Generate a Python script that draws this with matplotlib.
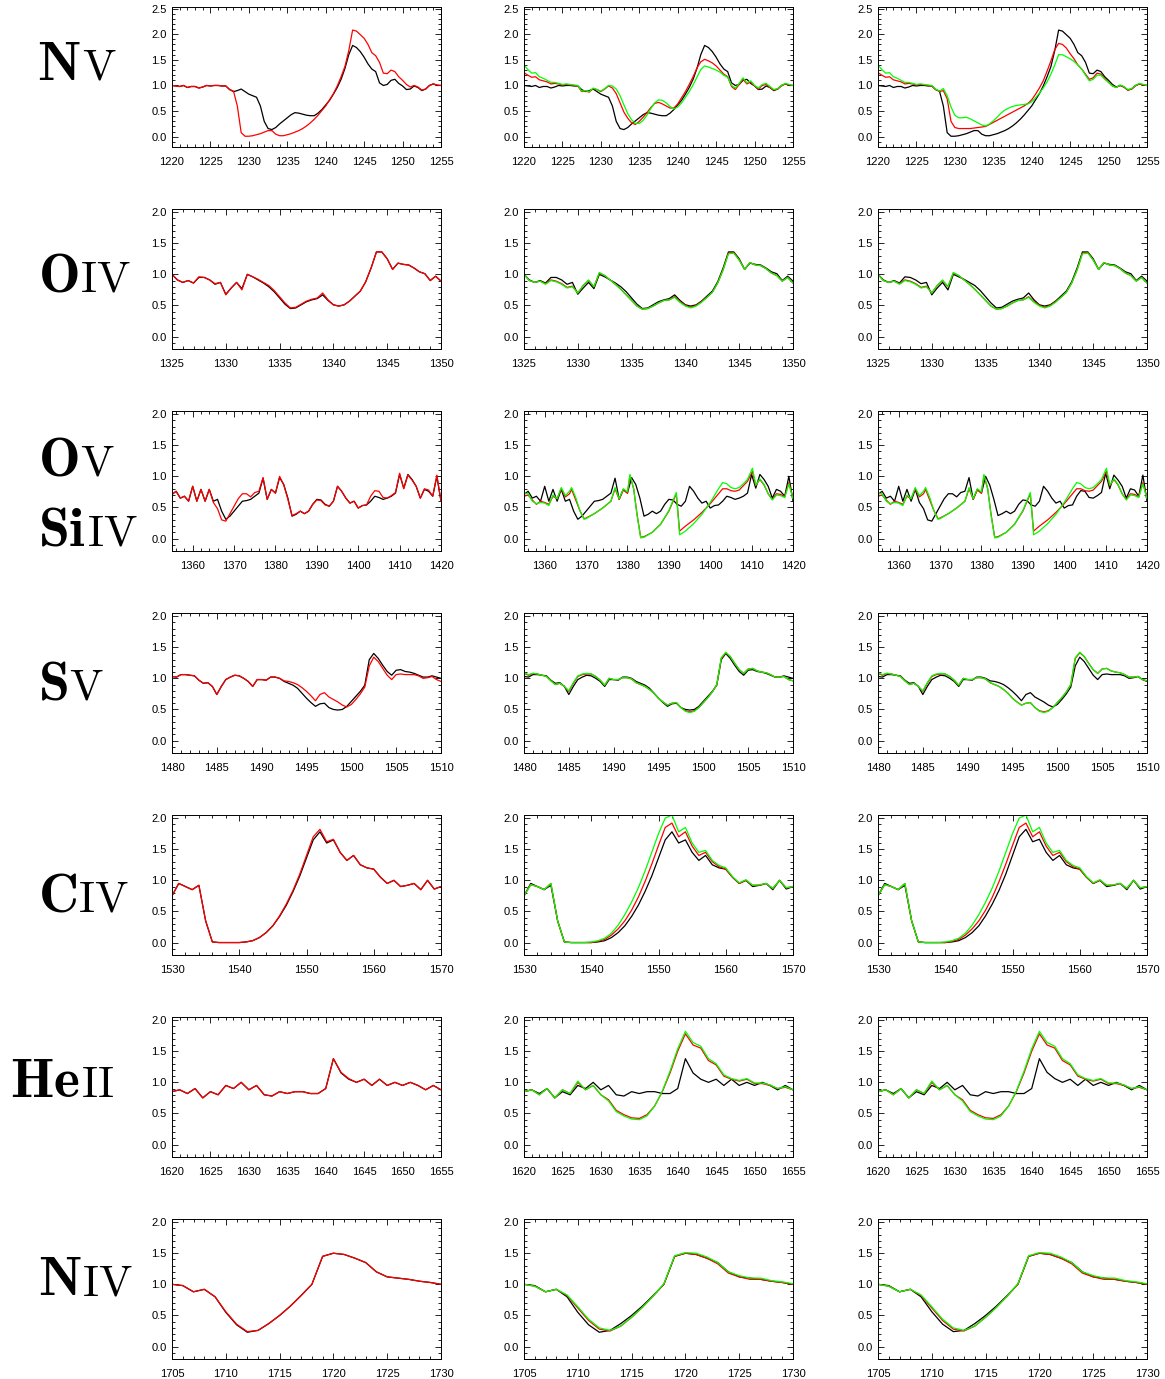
import numpy as np
import matplotlib
matplotlib.use('Agg')
import matplotlib.pyplot as plt
from matplotlib.ticker import MultipleLocator, FormatStrFormatter

plt.rcParams['mathtext.fontset'] = 'cm'
plt.rcParams['font.family'] = ['Liberation Sans', 'DejaVu Sans']

# ---------------- N V (1220-1255, 0.5 A step) ----------------
NV_WAVE = np.arange(1220.0, 1255.01, 0.5)
NV_OBS = [1.00, 0.99, 0.98, 1.00, 0.96, 0.98, 0.98, 0.95, 0.97, 1.00, 0.99, 1.00, 1.00, 0.99, 0.99,
          0.92, 0.88, 0.90, 0.93, 0.88, 0.83, 0.80, 0.77, 0.60, 0.30, 0.16, 0.14, 0.18, 0.25, 0.31,
          0.37, 0.43, 0.47, 0.46, 0.44, 0.42, 0.41, 0.41, 0.46, 0.53, 0.62, 0.71, 0.83, 0.96, 1.12,
          1.33, 1.60, 1.78, 1.74, 1.66, 1.55, 1.42, 1.32, 1.27, 1.05, 1.00, 1.02, 1.10, 1.12, 1.04,
          0.99, 0.92, 0.93, 0.99, 0.96, 0.90, 0.93, 1.00, 1.03, 1.00, 1.00]
NV_MODEL_A = [1.00, 0.99, 0.98, 1.00, 0.96, 0.98, 0.98, 0.95, 0.97, 1.00, 0.99, 1.00, 1.00, 0.99, 0.99,
              0.92, 0.89, 0.60, 0.08, 0.01, 0.01, 0.02, 0.04, 0.06, 0.09, 0.12, 0.12, 0.05, 0.02, 0.02,
              0.04, 0.06, 0.09, 0.12, 0.16, 0.21, 0.27, 0.34, 0.42, 0.51, 0.60, 0.72, 0.84, 0.99, 1.17,
              1.37, 1.68, 2.08, 2.06, 1.99, 1.92, 1.80, 1.64, 1.58, 1.45, 1.24, 1.23, 1.30, 1.27, 1.17,
              1.10, 1.02, 0.97, 1.00, 0.97, 0.91, 0.93, 1.00, 1.03, 1.01, 1.00]
NV_MODEL_B_OBS = [1.25, 1.20, 1.16, 1.17, 1.11, 1.09, 1.07, 1.03, 1.04, 1.03, 1.01, 1.02, 1.01, 1.00, 0.99,
                  0.88, 0.89, 0.87, 0.94, 0.92, 0.88, 0.93, 0.99, 0.95, 0.84, 0.66, 0.48, 0.36, 0.27, 0.24,
                  0.30, 0.38, 0.47, 0.57, 0.65, 0.67, 0.64, 0.60, 0.56, 0.56, 0.64, 0.76, 0.88, 1.02, 1.17,
                  1.34, 1.46, 1.51, 1.48, 1.44, 1.38, 1.30, 1.22, 1.17, 0.98, 0.92, 1.02, 1.12, 1.03, 1.07,
                  0.99, 0.93, 1.00, 1.02, 0.96, 0.91, 0.93, 0.99, 1.03, 1.01, 1.00]
NV_MODEL_C_OBS = [1.40, 1.31, 1.24, 1.25, 1.17, 1.14, 1.10, 1.06, 1.06, 1.04, 1.02, 1.03, 1.02, 1.01, 1.00,
                  0.89, 0.90, 0.88, 0.95, 0.92, 0.89, 0.94, 1.00, 0.99, 0.93, 0.80, 0.62, 0.45, 0.33, 0.26,
                  0.26, 0.32, 0.42, 0.55, 0.66, 0.72, 0.71, 0.66, 0.59, 0.54, 0.58, 0.66, 0.77, 0.88, 1.01,
                  1.16, 1.31, 1.38, 1.36, 1.33, 1.30, 1.26, 1.20, 1.16, 1.00, 0.95, 1.04, 1.15, 1.05, 1.09,
                  1.00, 0.95, 1.02, 1.04, 0.98, 0.92, 0.94, 1.00, 1.04, 1.02, 1.00]
NV_MODEL_B_A = [1.25, 1.20, 1.16, 1.17, 1.11, 1.09, 1.07, 1.03, 1.04, 1.03, 1.01, 1.02, 1.01, 1.00, 0.99,
                0.92, 0.88, 0.90, 0.74, 0.30, 0.18, 0.16, 0.16, 0.16, 0.16, 0.17, 0.18, 0.19, 0.20, 0.24,
                0.28, 0.32, 0.36, 0.40, 0.44, 0.48, 0.52, 0.56, 0.60, 0.65, 0.72, 0.83, 0.95, 1.09, 1.28,
                1.48, 1.70, 1.82, 1.80, 1.73, 1.62, 1.52, 1.40, 1.32, 1.22, 1.12, 1.15, 1.24, 1.22, 1.14,
                1.06, 0.99, 0.96, 1.00, 0.97, 0.91, 0.93, 0.99, 1.03, 1.01, 1.00]
NV_MODEL_C_A = [1.40, 1.31, 1.24, 1.25, 1.17, 1.14, 1.10, 1.06, 1.06, 1.04, 1.02, 1.03, 1.02, 1.01, 1.00,
                0.93, 0.89, 0.94, 0.80, 0.58, 0.42, 0.37, 0.37, 0.38, 0.35, 0.31, 0.27, 0.23, 0.21, 0.25,
                0.31, 0.38, 0.46, 0.52, 0.56, 0.59, 0.61, 0.62, 0.63, 0.64, 0.68, 0.76, 0.85, 0.95, 1.07,
                1.22, 1.40, 1.60, 1.60, 1.56, 1.52, 1.47, 1.40, 1.32, 1.20, 1.09, 1.12, 1.20, 1.20, 1.12,
                1.06, 0.99, 0.96, 1.01, 0.98, 0.92, 0.94, 1.00, 1.04, 1.02, 1.00]

# ---------------- O IV (1325-1350, 0.5 A step) ----------------
OIV_WAVE = np.arange(1325.0, 1350.01, 0.5)
OIV_OBS = [1.00, 0.91, 0.87, 0.90, 0.86, 0.95, 0.95, 0.91, 0.84, 0.87, 0.68, 0.78, 0.87, 0.77, 1.00,
           0.96, 0.91, 0.86, 0.80, 0.72, 0.62, 0.52, 0.45, 0.46, 0.51, 0.56, 0.59, 0.61, 0.67, 0.58,
           0.51, 0.49, 0.51, 0.57, 0.65, 0.73, 0.88, 1.10, 1.36, 1.36, 1.25, 1.08, 1.18, 1.16, 1.15,
           1.10, 1.04, 1.01, 0.90, 0.97, 0.89]
OIV_MODEL_A = [1.00, 0.91, 0.87, 0.90, 0.86, 0.96, 0.95, 0.91, 0.85, 0.87, 0.67, 0.78, 0.87, 0.75, 1.00,
               0.96, 0.92, 0.87, 0.82, 0.74, 0.64, 0.54, 0.46, 0.47, 0.52, 0.57, 0.60, 0.62, 0.70, 0.59,
               0.51, 0.49, 0.51, 0.57, 0.65, 0.73, 0.88, 1.10, 1.36, 1.36, 1.25, 1.08, 1.18, 1.16, 1.15,
               1.10, 1.04, 1.01, 0.90, 0.97, 0.89]
OIV_MODEL_B = [1.00, 0.90, 0.87, 0.89, 0.85, 0.91, 0.89, 0.85, 0.79, 0.81, 0.70, 0.82, 0.90, 0.80, 1.02,
               0.98, 0.91, 0.84, 0.76, 0.67, 0.58, 0.49, 0.44, 0.45, 0.49, 0.54, 0.58, 0.59, 0.64, 0.56,
               0.50, 0.47, 0.50, 0.56, 0.63, 0.71, 0.86, 1.07, 1.34, 1.35, 1.23, 1.08, 1.19, 1.15, 1.14,
               1.09, 1.02, 0.98, 0.89, 0.95, 0.86]
OIV_MODEL_C = [1.00, 0.90, 0.87, 0.89, 0.84, 0.90, 0.88, 0.84, 0.78, 0.80, 0.70, 0.82, 0.91, 0.80, 1.03,
               0.98, 0.91, 0.84, 0.76, 0.67, 0.58, 0.49, 0.44, 0.45, 0.49, 0.54, 0.58, 0.59, 0.63, 0.55,
               0.49, 0.46, 0.49, 0.55, 0.63, 0.71, 0.86, 1.07, 1.33, 1.34, 1.23, 1.08, 1.19, 1.15, 1.14,
               1.09, 1.02, 0.98, 0.89, 0.95, 0.86]

# ---------------- O V / Si IV (1355-1420) ----------------
SIIV_WAVE = np.arange(1355.0, 1420.01, 1.0)
SIIV_OBS = [0.71, 0.76, 0.65, 0.68, 0.60, 0.84, 0.60, 0.79, 0.60, 0.79, 0.60, 0.63, 0.44, 0.31, 0.36,
            0.44, 0.52, 0.60, 0.61, 0.63, 0.68, 0.73, 0.97, 0.63, 0.79, 0.73, 0.98, 0.87, 0.65, 0.36,
            0.39, 0.44, 0.40, 0.44, 0.55, 0.63, 0.62, 0.55, 0.52, 0.60, 0.84, 0.76, 0.65, 0.57, 0.60,
            0.49, 0.53, 0.54, 0.60, 0.68, 0.66, 0.63, 0.65, 0.68, 0.73, 1.03, 0.81, 1.03, 0.95, 0.84,
            0.65, 0.79, 0.76, 0.68, 1.00, 0.60]
SIIV_MODEL_A = [0.71, 0.76, 0.65, 0.68, 0.60, 0.84, 0.60, 0.79, 0.60, 0.79, 0.58, 0.48, 0.30, 0.28, 0.40,
                0.52, 0.64, 0.72, 0.72, 0.67, 0.74, 0.76, 0.98, 0.63, 0.79, 0.73, 1.00, 0.86, 0.63, 0.37,
                0.40, 0.44, 0.40, 0.44, 0.55, 0.62, 0.61, 0.54, 0.52, 0.60, 0.84, 0.76, 0.65, 0.57, 0.60,
                0.49, 0.53, 0.54, 0.68, 0.77, 0.76, 0.66, 0.65, 0.69, 0.74, 1.05, 0.80, 1.02, 0.94, 0.84,
                0.65, 0.80, 0.78, 0.68, 1.02, 0.60]
SIIV_MODEL_WAVE = [1355, 1356, 1357, 1358, 1359, 1360, 1361, 1362, 1363, 1364, 1365, 1366, 1366.5,
                   1367.5, 1368.5, 1369.5, 1370, 1372, 1374, 1376, 1377, 1378, 1379, 1380, 1380.6,
                   1381.5, 1382.3, 1383.2, 1384, 1386, 1388, 1390, 1391.8, 1392.6, 1394, 1396, 1398,
                   1400, 1402, 1403, 1404, 1405, 1406, 1407, 1408, 1409, 1410.2, 1411, 1412, 1413,
                   1414, 1415, 1416, 1417, 1418, 1419, 1420]
SIIV_MODEL_B = [0.68, 0.70, 0.62, 0.55, 0.60, 0.58, 0.55, 0.68, 0.64, 0.80, 0.67, 0.72, 0.79,
                0.62, 0.45, 0.32, 0.33, 0.40, 0.49, 0.60, 0.80, 0.63, 0.78, 0.73, 1.01,
                0.80, 0.40, 0.02, 0.03, 0.10, 0.23, 0.44, 0.72, 0.12, 0.20, 0.30, 0.42,
                0.56, 0.72, 0.80, 0.80, 0.77, 0.76, 0.78, 0.85, 0.92, 1.08, 0.85, 0.95, 0.86,
                0.72, 0.63, 0.72, 0.71, 0.67, 0.90, 0.65]
SIIV_MODEL_C = [0.72, 0.72, 0.60, 0.56, 0.58, 0.57, 0.53, 0.70, 0.64, 0.82, 0.69, 0.76, 0.82,
                0.66, 0.45, 0.31, 0.32, 0.40, 0.49, 0.60, 0.82, 0.64, 0.80, 0.75, 1.03,
                0.80, 0.38, 0.01, 0.02, 0.10, 0.23, 0.45, 0.74, 0.06, 0.12, 0.24, 0.39,
                0.58, 0.80, 0.90, 0.88, 0.82, 0.80, 0.82, 0.88, 0.95, 1.13, 0.86, 0.96, 0.87,
                0.72, 0.62, 0.70, 0.69, 0.66, 0.88, 0.64]

# ---------------- S V (1480-1510, 0.5 A step) ----------------
SV_WAVE = np.arange(1480.0, 1510.01, 0.5)
SV_OBS = [1.03, 1.02, 1.06, 1.06, 1.05, 1.04, 0.97, 0.92, 0.93, 0.87, 0.74, 0.87, 0.98, 1.02, 1.05,
          1.04, 1.00, 0.95, 0.87, 0.98, 0.98, 0.97, 1.02, 1.02, 1.00, 0.95, 0.92, 0.89, 0.84, 0.76,
          0.68, 0.61, 0.55, 0.59, 0.60, 0.53, 0.50, 0.49, 0.50, 0.55, 0.63, 0.71, 0.79, 0.89, 1.30,
          1.40, 1.32, 1.21, 1.11, 1.05, 1.13, 1.14, 1.11, 1.10, 1.08, 1.05, 1.02, 1.02, 1.04, 1.02, 1.00]
SV_MODEL_A = [1.03, 1.02, 1.06, 1.06, 1.05, 1.04, 0.97, 0.92, 0.93, 0.87, 0.74, 0.87, 0.98, 1.02, 1.05,
              1.04, 1.00, 0.95, 0.87, 0.98, 0.98, 0.97, 1.02, 1.02, 1.00, 0.96, 0.95, 0.93, 0.90, 0.85,
              0.79, 0.72, 0.64, 0.74, 0.77, 0.70, 0.66, 0.62, 0.57, 0.54, 0.58, 0.66, 0.75, 0.86, 1.20,
              1.34, 1.27, 1.16, 1.05, 0.98, 1.06, 1.07, 1.06, 1.06, 1.06, 1.04, 1.00, 1.01, 1.03, 0.98, 0.95]
SV_MODEL_B = [1.08, 1.05, 1.08, 1.07, 1.05, 1.03, 0.96, 0.90, 0.92, 0.87, 0.79, 0.92, 1.03, 1.06, 1.07,
              1.07, 1.03, 0.97, 0.89, 1.00, 0.98, 0.98, 1.01, 1.01, 0.99, 0.93, 0.90, 0.87, 0.82, 0.76,
              0.68, 0.62, 0.57, 0.60, 0.61, 0.53, 0.48, 0.46, 0.48, 0.53, 0.61, 0.69, 0.78, 0.90, 1.32,
              1.41, 1.35, 1.24, 1.14, 1.08, 1.15, 1.16, 1.12, 1.10, 1.09, 1.06, 1.02, 1.02, 1.03, 0.98, 0.96]
SV_MODEL_C = [1.09, 1.06, 1.08, 1.07, 1.05, 1.03, 0.96, 0.90, 0.92, 0.87, 0.80, 0.93, 1.04, 1.07, 1.08,
              1.07, 1.03, 0.97, 0.89, 1.00, 0.98, 0.98, 1.01, 1.01, 0.99, 0.93, 0.90, 0.87, 0.82, 0.76,
              0.68, 0.62, 0.57, 0.60, 0.61, 0.53, 0.47, 0.45, 0.47, 0.53, 0.61, 0.69, 0.78, 0.90, 1.33,
              1.42, 1.35, 1.24, 1.14, 1.08, 1.15, 1.16, 1.12, 1.10, 1.09, 1.06, 1.02, 1.02, 1.03, 0.98, 0.96]

# ---------------- C IV (1530-1570, 1 A step) ----------------
CIV_WAVE = np.arange(1530.0, 1570.01, 1.0)
CIV_OBS = [0.75, 0.95, 0.90, 0.85, 0.92, 0.35, 0.01, 0.00, 0.00, 0.00, 0.00, 0.01, 0.03, 0.08, 0.16,
           0.27, 0.42, 0.60, 0.82, 1.07, 1.36, 1.65, 1.78, 1.60, 1.65, 1.45, 1.32, 1.40, 1.25, 1.20,
           1.18, 1.05, 0.95, 1.00, 0.90, 0.92, 0.95, 0.85, 1.00, 0.86, 0.90]
CIV_MODEL_A = [0.75, 0.95, 0.90, 0.85, 0.92, 0.35, 0.01, 0.00, 0.00, 0.00, 0.00, 0.01, 0.03, 0.08, 0.16,
               0.27, 0.43, 0.62, 0.84, 1.10, 1.40, 1.70, 1.82, 1.62, 1.66, 1.45, 1.32, 1.40, 1.25, 1.20,
               1.18, 1.05, 0.95, 1.00, 0.90, 0.92, 0.95, 0.85, 1.00, 0.86, 0.90]
CIV_MODEL_B = [0.75, 0.93, 0.90, 0.85, 0.95, 0.35, 0.01, 0.00, 0.00, 0.00, 0.00, 0.02, 0.05, 0.12, 0.22,
               0.35, 0.52, 0.73, 0.98, 1.26, 1.56, 1.85, 1.92, 1.70, 1.78, 1.55, 1.40, 1.45, 1.30, 1.22,
               1.18, 1.05, 0.95, 1.00, 0.92, 0.92, 0.95, 0.87, 1.00, 0.88, 0.90]
CIV_MODEL_C = [0.75, 0.93, 0.90, 0.85, 0.95, 0.35, 0.01, 0.00, 0.00, 0.00, 0.01, 0.03, 0.07, 0.15, 0.28,
               0.45, 0.65, 0.88, 1.15, 1.45, 1.75, 2.00, 2.05, 1.78, 1.85, 1.60, 1.45, 1.48, 1.32, 1.24,
               1.20, 1.06, 0.96, 1.01, 0.92, 0.93, 0.95, 0.87, 1.00, 0.88, 0.90]

# ---------------- He II (1620-1655, 1 A step) ----------------
HEII_WAVE = np.arange(1620.0, 1655.01, 1.0)
HEII_OBS = [0.85, 0.88, 0.82, 0.90, 0.75, 0.85, 0.80, 0.95, 0.90, 1.00, 0.88, 0.95, 0.80, 0.78, 0.85,
            0.82, 0.85, 0.85, 0.82, 0.82, 0.90, 1.38, 1.15, 1.05, 1.00, 1.05, 0.95, 1.05, 0.95, 1.00,
            0.95, 1.00, 0.95, 0.88, 0.95, 0.88]
HEII_MODEL_A = [0.85, 0.88, 0.82, 0.90, 0.75, 0.85, 0.80, 0.95, 0.90, 1.00, 0.88, 0.95, 0.80, 0.78, 0.85,
                0.82, 0.85, 0.85, 0.82, 0.82, 0.90, 1.38, 1.16, 1.06, 1.00, 1.05, 0.95, 1.05, 0.95, 1.00,
                0.95, 1.00, 0.95, 0.88, 0.95, 0.88]
HEII_MODEL_B = [0.85, 0.88, 0.80, 0.90, 0.75, 0.88, 0.82, 1.00, 0.88, 0.95, 0.80, 0.72, 0.55, 0.48, 0.43,
                0.42, 0.48, 0.62, 0.85, 1.15, 1.50, 1.78, 1.60, 1.55, 1.35, 1.28, 1.10, 1.05, 1.02, 1.05,
                0.98, 0.98, 0.95, 0.90, 0.92, 0.88]
HEII_MODEL_C = [0.85, 0.88, 0.80, 0.90, 0.75, 0.88, 0.82, 1.02, 0.88, 0.95, 0.80, 0.70, 0.53, 0.46, 0.41,
                0.40, 0.46, 0.62, 0.86, 1.18, 1.54, 1.82, 1.64, 1.58, 1.38, 1.30, 1.12, 1.06, 1.03, 1.06,
                0.99, 0.99, 0.96, 0.90, 0.93, 0.88]

# ---------------- N IV (1705-1730, 1 A step) ----------------
NIV_WAVE = np.arange(1705.0, 1730.01, 1.0)
NIV_OBS = [1.00, 0.98, 0.88, 0.92, 0.80, 0.55, 0.35, 0.23, 0.26, 0.37, 0.50, 0.65, 0.82, 1.00, 1.45,
           1.50, 1.48, 1.42, 1.35, 1.20, 1.12, 1.10, 1.08, 1.05, 1.03, 1.00]
NIV_MODEL_A = [1.00, 0.98, 0.88, 0.92, 0.80, 0.56, 0.36, 0.24, 0.26, 0.37, 0.50, 0.65, 0.82, 1.00, 1.45,
               1.50, 1.48, 1.42, 1.35, 1.20, 1.12, 1.10, 1.08, 1.05, 1.03, 1.00]
NIV_MODEL_B = [1.00, 0.97, 0.88, 0.92, 0.82, 0.62, 0.42, 0.28, 0.25, 0.33, 0.47, 0.63, 0.81, 1.00, 1.45,
               1.50, 1.48, 1.42, 1.33, 1.18, 1.12, 1.08, 1.08, 1.05, 1.03, 1.00]
NIV_MODEL_C = [1.00, 0.97, 0.88, 0.92, 0.83, 0.64, 0.44, 0.30, 0.26, 0.33, 0.47, 0.63, 0.81, 1.01, 1.46,
               1.51, 1.50, 1.44, 1.35, 1.20, 1.14, 1.10, 1.10, 1.06, 1.04, 1.01]

# ---------------- panel layout ----------------
BLACK, RED, GREEN = '#000000', '#ff0000', '#00ff00'

rows = [
    dict(xlim=(1220, 1255), major=5, minor=1, ymax=2.53, ytop=2.5,
         c1=[(NV_WAVE, NV_OBS, BLACK), (NV_WAVE, NV_MODEL_A, RED)],
         c2=[(NV_WAVE, NV_OBS, BLACK), (NV_WAVE, NV_MODEL_B_OBS, RED), (NV_WAVE, NV_MODEL_C_OBS, GREEN)],
         c3=[(NV_WAVE, NV_MODEL_A, BLACK), (NV_WAVE, NV_MODEL_B_A, RED), (NV_WAVE, NV_MODEL_C_A, GREEN)]),
    dict(xlim=(1325, 1350), major=5, minor=1, ymax=2.05, ytop=2.0,
         c1=[(OIV_WAVE, OIV_OBS, BLACK), (OIV_WAVE, OIV_MODEL_A, RED)],
         c2=[(OIV_WAVE, OIV_OBS, BLACK), (OIV_WAVE, OIV_MODEL_B, RED), (OIV_WAVE, OIV_MODEL_C, GREEN)],
         c3=[(OIV_WAVE, OIV_MODEL_A, BLACK), (OIV_WAVE, OIV_MODEL_B, RED), (OIV_WAVE, OIV_MODEL_C, GREEN)]),
    dict(xlim=(1355, 1420), major=10, minor=2, ymax=2.05, ytop=2.0,
         c1=[(SIIV_WAVE, SIIV_OBS, BLACK), (SIIV_WAVE, SIIV_MODEL_A, RED)],
         c2=[(SIIV_WAVE, SIIV_OBS, BLACK), (SIIV_MODEL_WAVE, SIIV_MODEL_B, RED), (SIIV_MODEL_WAVE, SIIV_MODEL_C, GREEN)],
         c3=[(SIIV_WAVE, SIIV_MODEL_A, BLACK), (SIIV_MODEL_WAVE, SIIV_MODEL_B, RED), (SIIV_MODEL_WAVE, SIIV_MODEL_C, GREEN)]),
    dict(xlim=(1480, 1510), major=5, minor=1, ymax=2.05, ytop=2.0,
         c1=[(SV_WAVE, SV_OBS, BLACK), (SV_WAVE, SV_MODEL_A, RED)],
         c2=[(SV_WAVE, SV_OBS, BLACK), (SV_WAVE, SV_MODEL_B, RED), (SV_WAVE, SV_MODEL_C, GREEN)],
         c3=[(SV_WAVE, SV_MODEL_A, BLACK), (SV_WAVE, SV_MODEL_B, RED), (SV_WAVE, SV_MODEL_C, GREEN)]),
    dict(xlim=(1530, 1570), major=10, minor=2, ymax=2.05, ytop=2.0,
         c1=[(CIV_WAVE, CIV_OBS, BLACK), (CIV_WAVE, CIV_MODEL_A, RED)],
         c2=[(CIV_WAVE, CIV_OBS, BLACK), (CIV_WAVE, CIV_MODEL_B, RED), (CIV_WAVE, CIV_MODEL_C, GREEN)],
         c3=[(CIV_WAVE, CIV_MODEL_A, BLACK), (CIV_WAVE, CIV_MODEL_B, RED), (CIV_WAVE, CIV_MODEL_C, GREEN)]),
    dict(xlim=(1620, 1655), major=5, minor=1, ymax=2.05, ytop=2.0,
         c1=[(HEII_WAVE, HEII_OBS, BLACK), (HEII_WAVE, HEII_MODEL_A, RED)],
         c2=[(HEII_WAVE, HEII_OBS, BLACK), (HEII_WAVE, HEII_MODEL_B, RED), (HEII_WAVE, HEII_MODEL_C, GREEN)],
         c3=[(HEII_WAVE, HEII_MODEL_A, BLACK), (HEII_WAVE, HEII_MODEL_B, RED), (HEII_WAVE, HEII_MODEL_C, GREEN)]),
    dict(xlim=(1705, 1730), major=5, minor=1, ymax=2.05, ytop=2.0,
         c1=[(NIV_WAVE, NIV_OBS, BLACK), (NIV_WAVE, NIV_MODEL_A, RED)],
         c2=[(NIV_WAVE, NIV_OBS, BLACK), (NIV_WAVE, NIV_MODEL_B, RED), (NIV_WAVE, NIV_MODEL_C, GREEN)],
         c3=[(NIV_WAVE, NIV_MODEL_A, BLACK), (NIV_WAVE, NIV_MODEL_B, RED), (NIV_WAVE, NIV_MODEL_C, GREEN)]),
]

# ion labels: (element, ionisation stage, left px, baseline px)
ION_LABELS = [("N", "V", 37, 80), ("O", "IV", 38, 292), ("O", "V", 38, 476), ("Si", "IV", 38, 545),
              ("S", "V", 38, 700), ("C", "IV", 38, 912), ("He", "II", 10, 1097), ("N", "IV", 38, 1295)]

W, H = 1165, 1379
fig = plt.figure(figsize=(W / 100, H / 100), dpi=100)
col_left = [172, 524, 878]
ax_w = 269
row_top = [7, 209, 411, 613, 815, 1017, 1219]
ax_h = 140

for r, row in enumerate(rows):
    for c, key in enumerate(['c1', 'c2', 'c3']):
        ax = fig.add_axes([col_left[c] / W, 1 - (row_top[r] + ax_h) / H, ax_w / W, ax_h / H])
        for x, y, col in row[key]:
            ax.plot(x, y, color=col, lw=0.9, solid_joinstyle='round')
        ax.set_xlim(*row['xlim'])
        ax.set_ylim(-0.2, row['ymax'])
        ax.xaxis.set_major_locator(MultipleLocator(row['major']))
        ax.xaxis.set_minor_locator(MultipleLocator(row['minor']))
        ax.yaxis.set_major_locator(MultipleLocator(0.5))
        ax.yaxis.set_minor_locator(MultipleLocator(0.1))
        ax.yaxis.set_major_formatter(FormatStrFormatter('%.1f'))
        ax.set_yticks(np.arange(0, row['ytop'] + 0.01, 0.5))
        ax.tick_params(which='both', direction='in', top=True, right=True, width=0.6, labelsize=8)
        ax.tick_params(which='major', length=4)
        ax.tick_params(which='minor', length=2)
        ax.tick_params(axis='x', which='major', pad=7)
        ax.tick_params(axis='y', which='major', pad=4)
        for s in ax.spines.values():
            s.set_linewidth(0.7)

fig.canvas.draw()
renderer = fig.canvas.get_renderer()
for elem, stage, xl, yb in ION_LABELS:
    t1 = fig.text(xl / W, 1 - yb / H, r'$\mathbf{%s}$' % elem, fontsize=40, ha='left', va='baseline')
    bb = t1.get_window_extent(renderer=renderer)
    fig.text((bb.x1 + 1) / W, 1 - yb / H, r'$\mathrm{%s}$' % stage, fontsize=32, ha='left', va='baseline')

fig.savefig('out.png', dpi=100)
